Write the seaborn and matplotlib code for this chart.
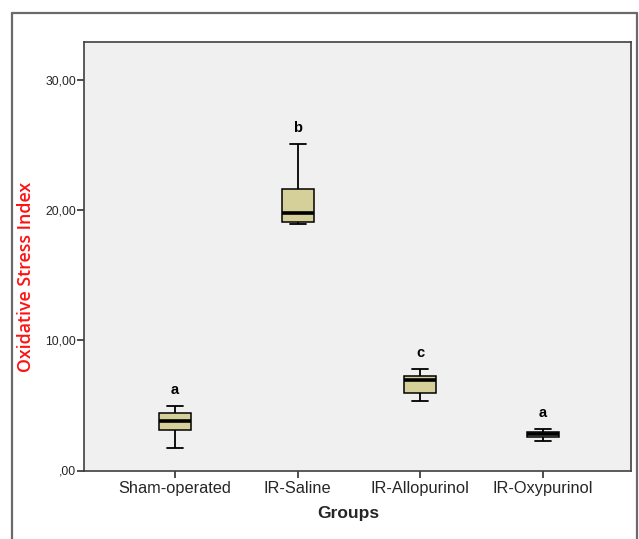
import matplotlib
matplotlib.use("Agg")
import matplotlib.pyplot as plt
import seaborn as sns
import pandas as pd
from matplotlib.lines import Line2D
from matplotlib.ticker import FuncFormatter

# Five-number summaries: [min, Q1, median, Q3, max]
groups = ["Sham-operated", "IR-Saline", "IR-Allopurinol", "IR-Oxypurinol"]
sham = [1.74, 3.14, 3.83, 4.42, 4.93]
saline = [18.95, 19.08, 19.79, 21.63, 25.08]
allo = [5.34, 5.92, 6.97, 7.28, 7.79]
oxy = [2.30, 2.61, 2.81, 2.93, 3.19]
letters = ["a", "b", "c", "a"]
yticks = [0, 10, 20, 30]

values = [sham, saline, allo, oxy]
df = pd.DataFrame({
    "Groups": [g for g, v in zip(groups, values) for _ in v],
    "OSI": [x for v in values for x in v],
})

sns.set_style("white")
plt.rcParams["font.family"] = ["Liberation Sans", "DejaVu Sans"]

fig = plt.figure(figsize=(6.39, 5.39), dpi=100)
W, H = 639, 539
ax = fig.add_axes([84 / W, 1 - 470.5 / H, (631 - 84) / W, (470.5 - 42) / H])
ax.set_facecolor("#f0f0f0")

sns.boxplot(
    data=df, x="Groups", y="OSI", order=groups, ax=ax,
    whis=(0, 100), width=0.26, color="#d5d09a", saturation=1,
    linecolor="black", linewidth=1.1, showfliers=False,
    medianprops=dict(color="black", linewidth=2.6),
    capprops=dict(linewidth=1.3), whiskerprops=dict(linewidth=1.3),
)

for i, (v, lab) in enumerate(zip(values, letters)):
    ax.text(i, max(v) + 1.25, lab, ha="center", va="center",
            fontsize=10.5, fontweight="bold", color="black")

ax.set_xlim(-0.742, 3.717)
ax.set_ylim(0, 32.9)
ax.set_yticks(yticks)
ax.yaxis.set_major_formatter(FuncFormatter(
    lambda v, p: ("%.2f" % v).replace(".", ",").lstrip("0") if v == 0 else ("%.2f" % v).replace(".", ",")))
ax.tick_params(axis="y", direction="out", length=5, width=1.2, color="#303030",
               labelsize=8.8, pad=0.5, left=True)
ax.tick_params(axis="x", direction="out", length=5, width=1.2, color="#303030",
               labelsize=11.8, pad=2.5, bottom=True)

for s in ax.spines.values():
    s.set_color("#404040")
    s.set_linewidth(1.2)

ax.set_xlabel("Groups", fontsize=12.5, fontweight="bold")
ax.xaxis.set_label_coords(0.483, -0.083)
ax.set_ylabel("Oxidative Stress Index", color="#ff1010", fontsize=12.8,
              fontweight="semibold", family=["Open Sans", "DejaVu Sans"])
ax.yaxis.set_label_coords(-0.090, 0.452)

# outer frame (open at the bottom)
fc = "#6a6a6a"
for xs, ys in [([12 / W, 12 / W], [0, 1 - 13 / H]),
               ([12 / W, 637 / W], [1 - 13 / H, 1 - 13 / H]),
               ([637 / W, 637 / W], [1 - 13 / H, 0])]:
    fig.add_artist(Line2D(xs, ys, color=fc, linewidth=1.6, transform=fig.transFigure))

fig.savefig("out.png", dpi=100)
